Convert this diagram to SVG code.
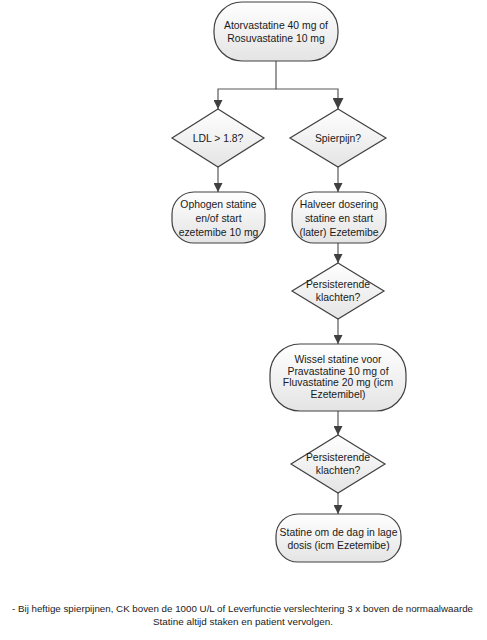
<svg xmlns="http://www.w3.org/2000/svg" width="487" height="640" viewBox="0 0 487 640">
<defs>
<linearGradient id="g" x1="0" y1="0" x2="0" y2="1">
<stop offset="0" stop-color="#ffffff"/>
<stop offset="1" stop-color="#e4e4e4"/>
</linearGradient>
<marker id="ah" viewBox="0 0 10 10" refX="10" refY="5" markerWidth="9" markerHeight="9" markerUnits="userSpaceOnUse" orient="auto">
<path d="M0,0 L10,5 L0,10 z" fill="#404040"/>
</marker>
<marker id="ahb" viewBox="0 0 10 10" refX="10" refY="5" markerWidth="12" markerHeight="11" markerUnits="userSpaceOnUse" orient="auto">
<path d="M0,0 L10,5 L0,10 z" fill="#404040"/>
</marker>
</defs>
<style>
.n{fill:url(#g);stroke:#404040;stroke-width:1.2}
.t{font-family:"Liberation Sans",Arial,sans-serif;font-size:10.4px;fill:#1a1a1a;text-anchor:middle}
.f{font-family:"Liberation Sans",Arial,sans-serif;font-size:9px;fill:#1a1a1a;text-anchor:middle}
.c{fill:none;stroke:#595959;stroke-width:1.2}
</style>
<rect width="487" height="640" fill="#ffffff"/>
<g id="connectors">
<path class="c" d="M276,61 V89 H218 V109" marker-end="url(#ah)"/>
<path class="c" d="M276,89 H338 V109" marker-end="url(#ahb)"/>
<path class="c" d="M218,167 V192" marker-end="url(#ah)"/>
<path class="c" d="M338,167 V192" marker-end="url(#ah)"/>
<path class="c" d="M338,243 V263" marker-end="url(#ah)"/>
<path class="c" d="M338,319 V344" marker-end="url(#ah)"/>
<path class="c" d="M338,411 V435" marker-end="url(#ah)"/>
<path class="c" d="M338,493 V514" marker-end="url(#ah)"/>
</g>
<g id="start">
<rect class="n" x="214" y="2" width="124" height="59" rx="28" ry="28"/>
<text class="t" x="276" y="29">Atorvastatine 40 mg of</text>
<text class="t" x="276" y="42">Rosuvastatine 10 mg</text>
</g>
<g id="ldl">
<path class="n" d="M218,109 L264,138 L218,167 L172,138 z"/>
<text class="t" x="218" y="142">LDL &gt; 1.8?</text>
</g>
<g id="spierpijn">
<path class="n" d="M338,109 L386,138 L338,167 L290,138 z"/>
<text class="t" x="338" y="142">Spierpijn?</text>
</g>
<g id="ophogen">
<rect class="n" x="172" y="192" width="93" height="51" rx="22" ry="22"/>
<text class="t" x="218.5" y="208">Ophogen statine</text>
<text class="t" x="218.5" y="222">en/of start</text>
<text class="t" x="218.5" y="236">ezetemibe 10 mg</text>
</g>
<g id="halveer">
<rect class="n" x="292" y="192" width="94" height="51" rx="22" ry="22"/>
<text class="t" x="339" y="208">Halveer dosering</text>
<text class="t" x="339" y="222">statine en start</text>
<text class="t" x="339" y="236">(later) Ezetemibe</text>
</g>
<g id="persist1">
<path class="n" d="M338,263 L384,291 L338,319 L292,291 z"/>
<text class="t" x="338" y="288">Persisterende</text>
<text class="t" x="338" y="301">klachten?</text>
</g>
<g id="wissel">
<rect class="n" x="270" y="344" width="136" height="67" rx="30" ry="30"/>
<text class="t" x="338" y="363">Wissel statine voor</text>
<text class="t" x="338" y="375">Pravastatine 10 mg of</text>
<text class="t" x="338" y="386">Fluvastatine 20 mg (icm</text>
<text class="t" x="338" y="398">Ezetemibel)</text>
</g>
<g id="persist2">
<path class="n" d="M338,435 L385,464 L338,493 L291,464 z"/>
<text class="t" x="338" y="461">Persisterende</text>
<text class="t" x="338" y="474">klachten?</text>
</g>
<g id="eind">
<rect class="n" x="276" y="514" width="125" height="48" rx="22" ry="22"/>
<text class="t" x="338.5" y="536">Statine om de dag in lage</text>
<text class="t" x="338.5" y="549">dosis (icm Ezetemibe)</text>
</g>
<g id="footnote">
<text class="f" x="242.5" y="612" textLength="461" lengthAdjust="spacingAndGlyphs">- Bij heftige spierpijnen, CK boven de 1000 U/L of Leverfunctie verslechtering 3 x boven de normaalwaarde</text>
<text class="f" x="243" y="625" textLength="180" lengthAdjust="spacingAndGlyphs">Statine altijd staken en patient vervolgen.</text>
</g>
</svg>
